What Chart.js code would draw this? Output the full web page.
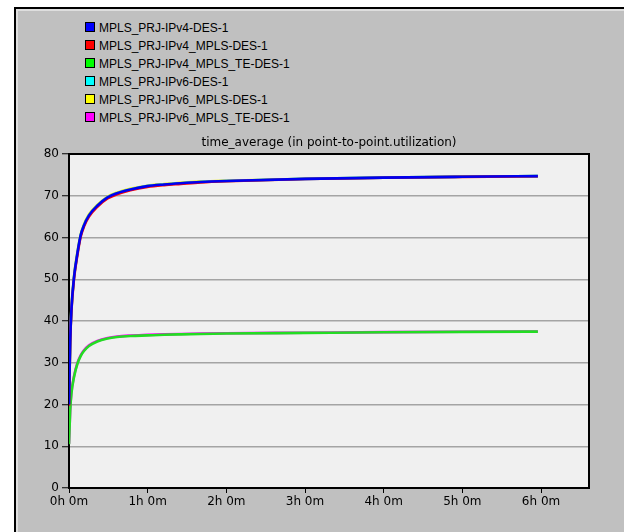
<!DOCTYPE html>
<html>
<head>
<meta charset="utf-8">
<script src="https://cdn.jsdelivr.net/npm/chart.js@4/dist/chart.umd.min.js"></script>
<style>
  html, body { margin: 0; padding: 0; background: #ffffff; }
  body { width: 624px; height: 532px; position: relative; overflow: hidden; }
  #frame { position: absolute; left: 14px; top: 7px; width: 608px; height: 525px;
    background: #c0c0c0; border-left: 2px solid #000; border-top: 2px solid #000;
    border-right: 1px solid #888; box-shadow: inset 2px 2px 0 #dedede; }
  #legend { position: absolute; left: 85px; top: 19px; font: 12px "Liberation Sans", Arial, sans-serif; color: #000; }
  .row { height: 18px; line-height: 18px; white-space: nowrap; }
  .sw { display: inline-block; width: 8px; height: 8px; border: 1px solid #000; vertical-align: -0px; margin-right: 4px; }
  #wrap { position: absolute; left: 0; top: 0; width: 624px; height: 532px; }
</style>
</head>
<body>
<div id="frame"></div>
<div id="legend"></div>
<div id="wrap"><canvas id="c" width="624" height="532"></canvas></div>
<script>
// time in hours
const times = [0, 0.015, 0.03, 0.064, 0.106, 0.148, 0.19, 0.254, 0.36, 0.49, 0.61, 0.78, 0.995, 1.21, 1.42, 1.67, 2, 3, 4, 5, 5.96];
const seriesNames = [
  'MPLS_PRJ-IPv4-DES-1',
  'MPLS_PRJ-IPv4_MPLS-DES-1',
  'MPLS_PRJ-IPv4_MPLS_TE-DES-1',
  'MPLS_PRJ-IPv6-DES-1',
  'MPLS_PRJ-IPv6_MPLS-DES-1',
  'MPLS_PRJ-IPv6_MPLS_TE-DES-1'
];
const ipv4Des    = [20, 35, 42.5, 50.5, 56.1, 60.5, 62.9, 65.3, 67.6, 69.6, 70.6, 71.5, 72.3, 72.7, 73.0, 73.3, 73.55, 74.05, 74.35, 74.55, 74.7];
const ipv4Mpls   = [19.7, 34.6, 42.1, 50.1, 55.7, 60.1, 62.6, 65.0, 67.35, 69.35, 70.35, 71.3, 72.1, 72.55, 72.85, 73.2, 73.48, 74.0, 74.3, 74.52, 74.68];
const ipv4MplsTe = [10.5, 18.5, 22.5, 26.6, 29.7, 31.6, 32.8, 34.0, 35.1, 35.8, 36.15, 36.4, 36.55, 36.7, 36.8, 36.9, 37.0, 37.15, 37.3, 37.4, 37.45];
const ipv6Des    = [20, 35, 42.5, 50.5, 56.1, 60.5, 62.9, 65.3, 67.6, 69.6, 70.6, 71.5, 72.3, 72.7, 73.0, 73.3, 73.55, 74.05, 74.35, 74.55, 74.7];
const ipv6Mpls   = [20.2, 35.3, 42.8, 50.8, 56.4, 60.7, 63.1, 65.5, 67.8, 69.75, 70.75, 71.65, 72.4, 72.8, 73.1, 73.38, 73.6, 74.08, 74.38, 74.57, 74.71];
const ipv6MplsTe = [10.6, 18.7, 22.7, 26.8, 29.9, 31.8, 33.0, 34.2, 35.25, 35.95, 36.3, 36.52, 36.67, 36.8, 36.9, 37.0, 37.08, 37.2, 37.33, 37.43, 37.47];
const xTickLabels = ['0h 0m', '1h 0m', '2h 0m', '3h 0m', '4h 0m', '5h 0m', '6h 0m'];
const yTicks = [0, 10, 20, 30, 40, 50, 60, 70, 80];
const titleText = 'time_average (in point-to-point.utilization)';

const allSeries = [ipv4Des, ipv4Mpls, ipv4MplsTe, ipv6Des, ipv6Mpls, ipv6MplsTe];
const swatch = ['#0000ff', '#ff0000', '#00ff00', '#00ffff', '#ffff00', '#ff00ff'];
const lineCol = ['#0000f0', '#ff0000', '#22dd22', '#00e8e8', '#e8e800', '#ff00ff'];

const lg = document.getElementById('legend');
seriesNames.forEach((n, i) => {
  const r = document.createElement('div'); r.className = 'row';
  const s = document.createElement('span'); s.className = 'sw'; s.style.background = swatch[i];
  r.appendChild(s); r.appendChild(document.createTextNode(n)); lg.appendChild(r);
});

const bgPlugin = {
  id: 'bg',
  beforeDraw(chart) {
    const a = chart.chartArea, ctx = chart.ctx;
    ctx.save(); ctx.fillStyle = '#f0f0f0'; ctx.fillRect(a.left, a.top, a.right - a.left, a.bottom - a.top); ctx.restore();
  },
  afterDraw(chart) {
    const a = chart.chartArea, ctx = chart.ctx;
    ctx.save(); ctx.strokeStyle = '#000'; ctx.lineWidth = 2;
    ctx.beginPath();
    ctx.moveTo(a.left, a.top); ctx.lineTo(a.right, a.top); ctx.lineTo(a.right, a.bottom);
    ctx.stroke(); ctx.restore();
  }
};

new Chart(document.getElementById('c'), {
  type: 'line',
  data: {
    datasets: allSeries.map((vals, i) => ({
      label: seriesNames[i],
      data: vals.map((v, k) => ({ x: times[k], y: v })),
      borderColor: lineCol[i],
      backgroundColor: lineCol[i],
      borderWidth: 2.6,
      pointRadius: 0,
      cubicInterpolationMode: 'monotone',
      fill: false
    }))
  },
  plugins: [bgPlugin],
  options: {
    responsive: false,
    animation: false,
    layout: { padding: { left: 0, right: 35, top: 0, bottom: 0 } },
    plugins: {
      legend: { display: false },
      tooltip: { enabled: false },
      title: {
        display: true, text: titleText, fullSize: false, color: '#000',
        font: { family: 'DejaVu Sans', size: 12, weight: 'normal', lineHeight: 1.2 },
        padding: { top: 135.3, bottom: 4.3 }
      }
    },
    scales: {
      x: {
        type: 'linear', min: 0, max: 6.61,
        afterBuildTicks(s) { s.ticks = xTickLabels.map((_, i) => ({ value: i })); },
        afterFit(s) { s.height = 44; },
        ticks: { color: '#000', font: { family: 'DejaVu Sans', size: 12 }, padding: 2,
          maxRotation: 0, autoSkip: false, callback: (v, i) => xTickLabels[i] },
        grid: { drawOnChartArea: false, drawTicks: true, tickLength: 5, tickColor: '#000', tickWidth: 1 },
        border: { display: true, color: '#000', width: 2 }
      },
      y: {
        type: 'linear', min: 0, max: 80,
        afterBuildTicks(s) { s.ticks = yTicks.map(v => ({ value: v })); },
        afterFit(s) { s.width = 69; },
        ticks: { color: '#000', font: { family: 'DejaVu Sans', size: 12 }, padding: 3 },
        grid: { color: '#a4a4a4', lineWidth: 1.5, tickLength: 7, tickColor: '#000', tickWidth: 1 },
        border: { display: true, color: '#000', width: 2 }
      }
    }
  }
});
</script>
</body>
</html>
